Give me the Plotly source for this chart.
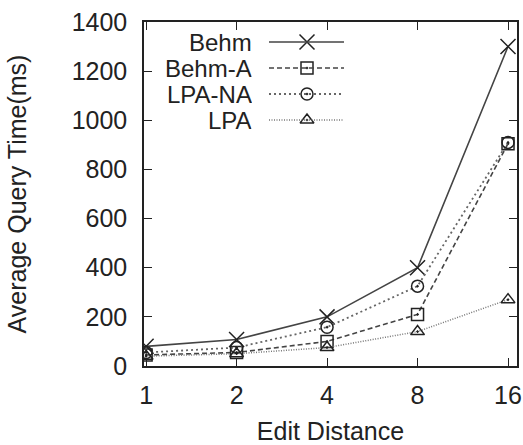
import plotly.graph_objects as go

# ---- data ----
edit_distance = [1, 2, 4, 8, 16]
series_names = ["Behm", "Behm-A", "LPA-NA", "LPA"]
behm = [80, 108, 200, 400, 1300]
behm_a = [45, 55, 100, 210, 905]
lpa_na = [55, 75, 158, 325, 910]
lpa = [40, 50, 75, 140, 270]
y_ticks = [0, 200, 400, 600, 800, 1000, 1200, 1400]

values = [behm, behm_a, lpa_na, lpa]
symbols = ["x-thin-open", "square-open-dot", "circle-open-dot", "triangle-up-open-dot"]
dashes = ["solid", "5px,3px", "2px,3px", "1px,1.5px"]
widths = [1.6, 1.6, 1.8, 1.5]
msizes = [15, 12, 12, 12]
colors = ["#444444", "#444444", "#666666", "#777777"]

W, H = 523, 445
L, R, T, B = 144, 6, 22, 79
FONT = "Liberation Sans, Arial, sans-serif"
FS = 25
LFS = 24
TXT = "#222222"

fig = go.Figure()
for name, v, s, d, w, ms, c in zip(series_names, values, symbols, dashes, widths, msizes, colors):
    fig.add_trace(go.Scatter(
        x=edit_distance, y=v, mode="lines+markers", name=name,
        line=dict(color=c, dash=d, width=w),
        marker=dict(symbol=s, size=ms, color="#222222", line=dict(width=1.5, color="#222222")),
        showlegend=False,
    ))

# ---- custom legend (text left, sample right), in overlay pixel axes ----
legend_rows_y = [42, 68, 94, 120]       # pixel rows
text_right_x = 253
line_x0, line_x1, mark_x = 269, 344, 307
pw, ph = W - L - R, H - T - B
for name, s, d, w, ms, c, ry in zip(series_names, symbols, dashes, widths, msizes, colors, legend_rows_y):
    py = (H - B - ry) / ph
    fig.add_shape(type="line", xref="paper", yref="paper",
                  x0=(line_x0 - L) / pw, x1=(line_x1 - L) / pw, y0=py, y1=py,
                  line=dict(color=c, dash=d, width=w))
    fig.add_annotation(xref="paper", yref="paper", x=(text_right_x - L) / pw, y=py,
                       text=name, showarrow=False, xanchor="right", yanchor="middle",
                       height=24, valign="middle", borderpad=0,
                       font=dict(family=FONT, size=LFS, color=TXT))
    fig.add_trace(go.Scatter(
        x=[mark_x], y=[ry], xaxis="x2", yaxis="y2", mode="markers", showlegend=False,
        marker=dict(symbol=s, size=ms, color="#222222", line=dict(width=1.5, color="#222222")),
        hoverinfo="skip",
    ))

axis_common = dict(
    showline=True, linecolor="#222222", linewidth=1.5, mirror="ticks",
    ticks="inside", ticklen=8, tickwidth=1.2, tickcolor="#222222",
    showgrid=False, zeroline=False, automargin=False,
    tickfont=dict(family=FONT, size=FS, color=TXT),
)

fig.update_layout(
    width=W, height=H,
    margin=dict(l=L, r=R, t=T, b=B),
    paper_bgcolor="white", plot_bgcolor="white",
    xaxis=dict(type="log", range=[-0.007, 1.234], tickvals=edit_distance,
               ticktext=[str(e) for e in edit_distance], ticklabelstandoff=6,
               title=dict(text="Edit Distance", font=dict(family=FONT, size=FS, color=TXT), standoff=16),
               **axis_common),
    yaxis=dict(range=[0, 1400], tickvals=y_ticks, ticklabelstandoff=10,
               title=dict(text="Average Query Time(ms)", font=dict(family=FONT, size=FS, color=TXT), standoff=38),
               **axis_common),
    xaxis2=dict(overlaying="x", range=[L, W - R], visible=False, fixedrange=True, automargin=False),
    yaxis2=dict(overlaying="y", range=[H - B, T], visible=False, fixedrange=True, automargin=False),
)

fig.write_html("out.html", config={"displayModeBar": False},
               post_script="document.body.style.margin='0';document.body.style.overflow='hidden';")
